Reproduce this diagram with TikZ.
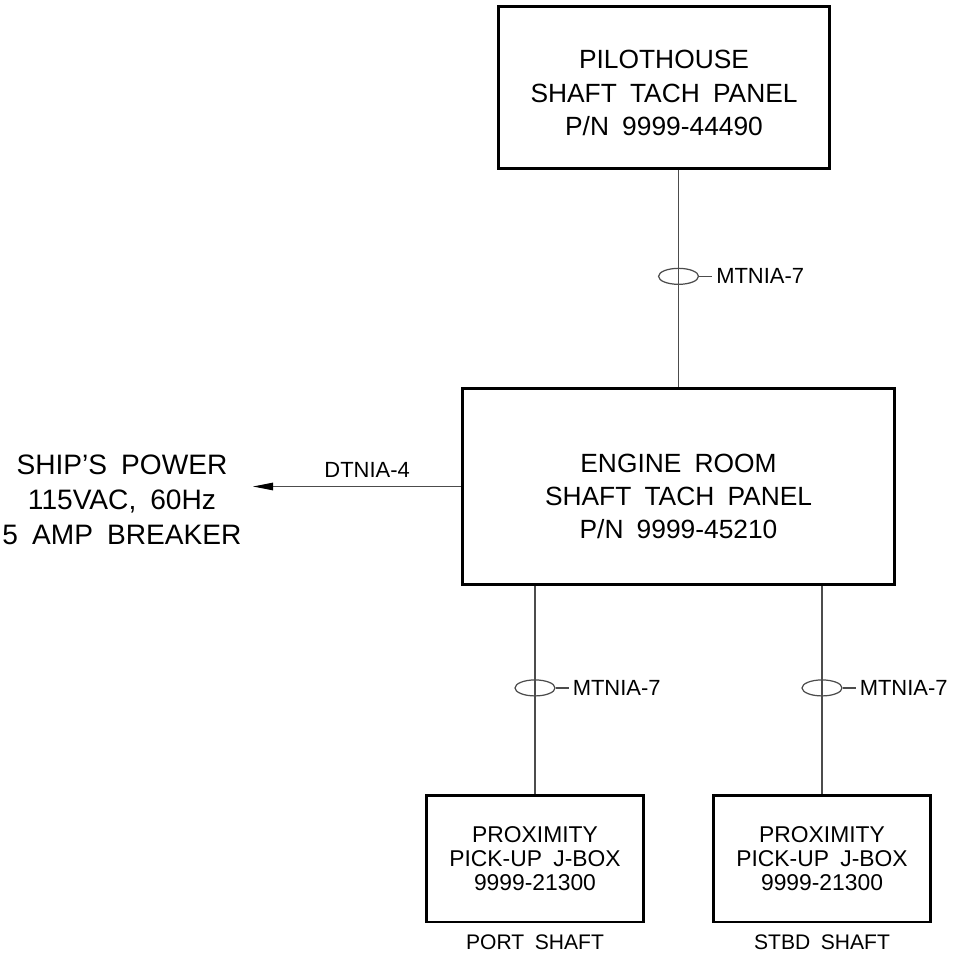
\documentclass[tikz,border=0pt]{standalone}
\usepackage{fontspec}
\setmainfont{Liberation Sans}[WordSpace=1.8]
\usetikzlibrary{arrows.meta,shapes.geometric,positioning}

\begin{document}
\begin{tikzpicture}[x=0.02cm, y=-0.02cm,
    panel/.style={draw, line width=1.7pt, inner sep=0pt},
    paneltxt/.style={align=center, inner sep=0pt, font=\fontsize{15}{19}\selectfont},
    jbox/.style={draw, line width=1.7pt, align=center, inner sep=0pt,
                 minimum width=4.34cm, minimum height=2.54cm,
                 font=\fontsize{13}{13.8}\selectfont},
    wire/.style={line width=0.7pt, black!70},
    cable/.style={ellipse, draw, wire, minimum width=0.8cm, minimum height=0.32cm, inner sep=0pt},
    tag/.style={font=\fontsize{12.5}{14}\selectfont, text=black, inner sep=2pt},
    shaftlbl/.style={font=\fontsize{12}{14}\selectfont, inner sep=0pt}]
  % canvas 955 x 952 px, 1 px = 0.02 cm
  \useasboundingbox (0,0) rectangle (955,952);

  % ── panels (text sits a little below the centre, as in the drawing) ──
  \node[panel, minimum width=6.64cm, minimum height=3.26cm,
        label={[paneltxt, yshift=-0.11cm]center:PILOTHOUSE\\SHAFT TACH PANEL\\P/N 9999-44490}]
    (pilot) at (664,87.5) {};
  \node[panel, minimum width=8.66cm, minimum height=3.94cm,
        label={[paneltxt, yshift=-0.2cm]center:ENGINE ROOM\\SHAFT TACH PANEL\\P/N 9999-45210}]
    (engine) at (678.5,486.5) {};

  % ── pick-up boxes ──
  \node[jbox] (port) at (535,858.5) {PROXIMITY\\PICK-UP J-BOX\\9999-21300};
  \node[jbox] (stbd) at (822,858.5) {PROXIMITY\\PICK-UP J-BOX\\9999-21300};
  \node[shaftlbl, below=0.22cm of port] (portlbl) {PORT SHAFT};
  \node[shaftlbl, below=0.22cm of stbd] (stbdlbl) {STBD SHAFT};

  % ── cables with marker ──
  \foreach \lo/\hi in {engine/pilot, port/engine, stbd/engine}{
    \draw[wire] (\lo.north |- \hi.south) -- node[cable, pos=0.49] (cab-\lo) {} (\lo.north);
    \draw[wire] (cab-\lo.east) -- ++(13,0) node[tag, right] {MTNIA-7}; }

  % ── ship's power feed ──
  \node[align=center, inner sep=0pt, font=\fontsize{16}{19.9}\selectfont] (power) at (122,500)
    {SHIP'S POWER\\115VAC, 60Hz\\5 AMP BREAKER};
  \coordinate (feed) at (253,486.5);
  \draw[wire, -{Triangle[length=4mm,width=1.5mm,black]}] (engine.west)
    -- node[tag, above=3pt, pos=0.45] {DTNIA-4} (feed);
\end{tikzpicture}
\end{document}
